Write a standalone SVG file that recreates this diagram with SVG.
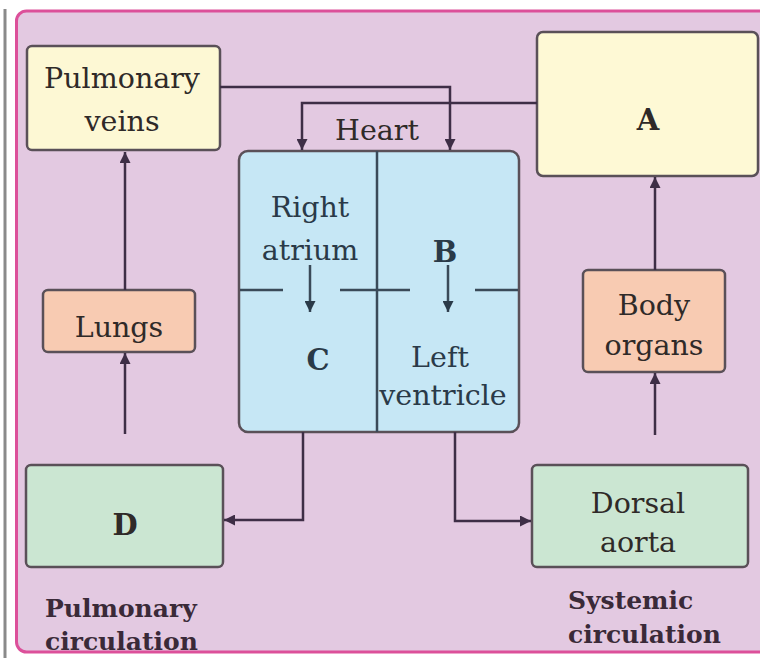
<svg xmlns="http://www.w3.org/2000/svg" width="760" height="658" viewBox="0 0 760 658">
<defs>
<style>
.box{stroke:#5a5058;stroke-width:2.5}
.t{font-family:"DejaVu Serif","Liberation Serif",serif;font-size:28.5px;fill:#2f2a28;text-anchor:middle}
.h{fill:#2a3a48}
.b{font-weight:bold;font-size:29px}
.cap{font-family:"DejaVu Serif","Liberation Serif",serif;font-size:25px;font-weight:bold;fill:#3a2a38}
.c{fill:none;stroke:#3e2e46;stroke-width:2.5}
.d{fill:none;stroke:#3a4a58;stroke-width:2.5}
</style>
<marker id="ah" viewBox="0 0 10 10" refX="10" refY="5" markerUnits="userSpaceOnUse" markerWidth="14" markerHeight="11" orient="auto">
<path d="M0,0 L10,5 L0,10 z" fill="#3e2e46"/>
</marker>
<marker id="ah2" viewBox="0 0 10 10" refX="10" refY="5" markerUnits="userSpaceOnUse" markerWidth="14" markerHeight="11" orient="auto">
<path d="M0,0 L10,5 L0,10 z" fill="#2a3a48"/>
</marker>
</defs>
<rect x="0" y="0" width="760" height="658" fill="#ffffff"/>
<line x1="5" y1="9" x2="5" y2="658" stroke="#8a8a8a" stroke-width="3"/>
<rect id="frame" x="16.5" y="11" width="760" height="641" rx="10" fill="#e3c9e1" stroke="#dc509a" stroke-width="3"/>

<g id="pulmonary-veins">
<rect class="box" x="27" y="46" width="193" height="104" rx="5" fill="#fdf8d4"/>
<text class="t" x="122" y="88">Pulmonary</text>
<text class="t" x="122" y="131">veins</text>
</g>
<g id="A">
<rect class="box" x="537" y="32" width="221" height="144" rx="6" fill="#fef9d5"/>
<text class="t b" x="648" y="130">A</text>
</g>
<g id="heart">
<text class="t" x="377" y="140">Heart</text>
<rect class="box" x="239" y="151" width="280" height="281" rx="9" fill="#c6e7f5" stroke="#4a5866"/>
<line class="d" x1="377" y1="151" x2="377" y2="432"/>
<line class="d" x1="240" y1="290" x2="283" y2="290"/>
<line class="d" x1="340" y1="290" x2="410" y2="290"/>
<line class="d" x1="475" y1="290" x2="518" y2="290"/>
<text class="t h" x="310" y="217">Right</text>
<text class="t h" x="310" y="260">atrium</text>
<text class="t h b" x="445" y="262">B</text>
<text class="t h b" x="318" y="370">C</text>
<text class="t h" x="440" y="367">Left</text>
<text class="t h" x="443" y="405">ventricle</text>
<path class="d" d="M310,265 V312" marker-end="url(#ah2)"/>
<path class="d" d="M448,265 V312" marker-end="url(#ah2)"/>
</g>
<g id="lungs">
<rect class="box" x="43" y="290" width="152" height="62" rx="5" fill="#f8cbb2"/>
<text class="t" x="119" y="337">Lungs</text>
</g>
<g id="body-organs">
<rect class="box" x="583" y="270" width="142" height="102" rx="5" fill="#f8cbb2"/>
<text class="t" x="654" y="315">Body</text>
<text class="t" x="654" y="355">organs</text>
</g>
<g id="D">
<rect class="box" x="26" y="465" width="197" height="102" rx="5" fill="#cbe6d2"/>
<text class="t b" x="125" y="535">D</text>
</g>
<g id="dorsal-aorta">
<rect class="box" x="532" y="465" width="216" height="102" rx="5" fill="#cbe6d2"/>
<text class="t" x="638" y="513">Dorsal</text>
<text class="t" x="638" y="552">aorta</text>
</g>
<g id="labels">
<text class="cap" x="45" y="617">Pulmonary</text>
<text class="cap" x="45" y="650">circulation</text>
<text class="cap" x="568" y="609">Systemic</text>
<text class="cap" x="568" y="643">circulation</text>
</g>
<g id="connectors">
<path class="c" d="M220,87 H450 V150" marker-end="url(#ah)"/>
<path class="c" d="M537,103 H302 V150" marker-end="url(#ah)"/>
<path class="c" d="M125,290 V152" marker-end="url(#ah)"/>
<path class="c" d="M125,434 V353" marker-end="url(#ah)"/>
<path class="c" d="M303,432 V520 H224" marker-end="url(#ah)"/>
<path class="c" d="M455,432 V521 H531" marker-end="url(#ah)"/>
<path class="c" d="M655,435 V373" marker-end="url(#ah)"/>
<path class="c" d="M655,270 V177" marker-end="url(#ah)"/>
</g>
</svg>
